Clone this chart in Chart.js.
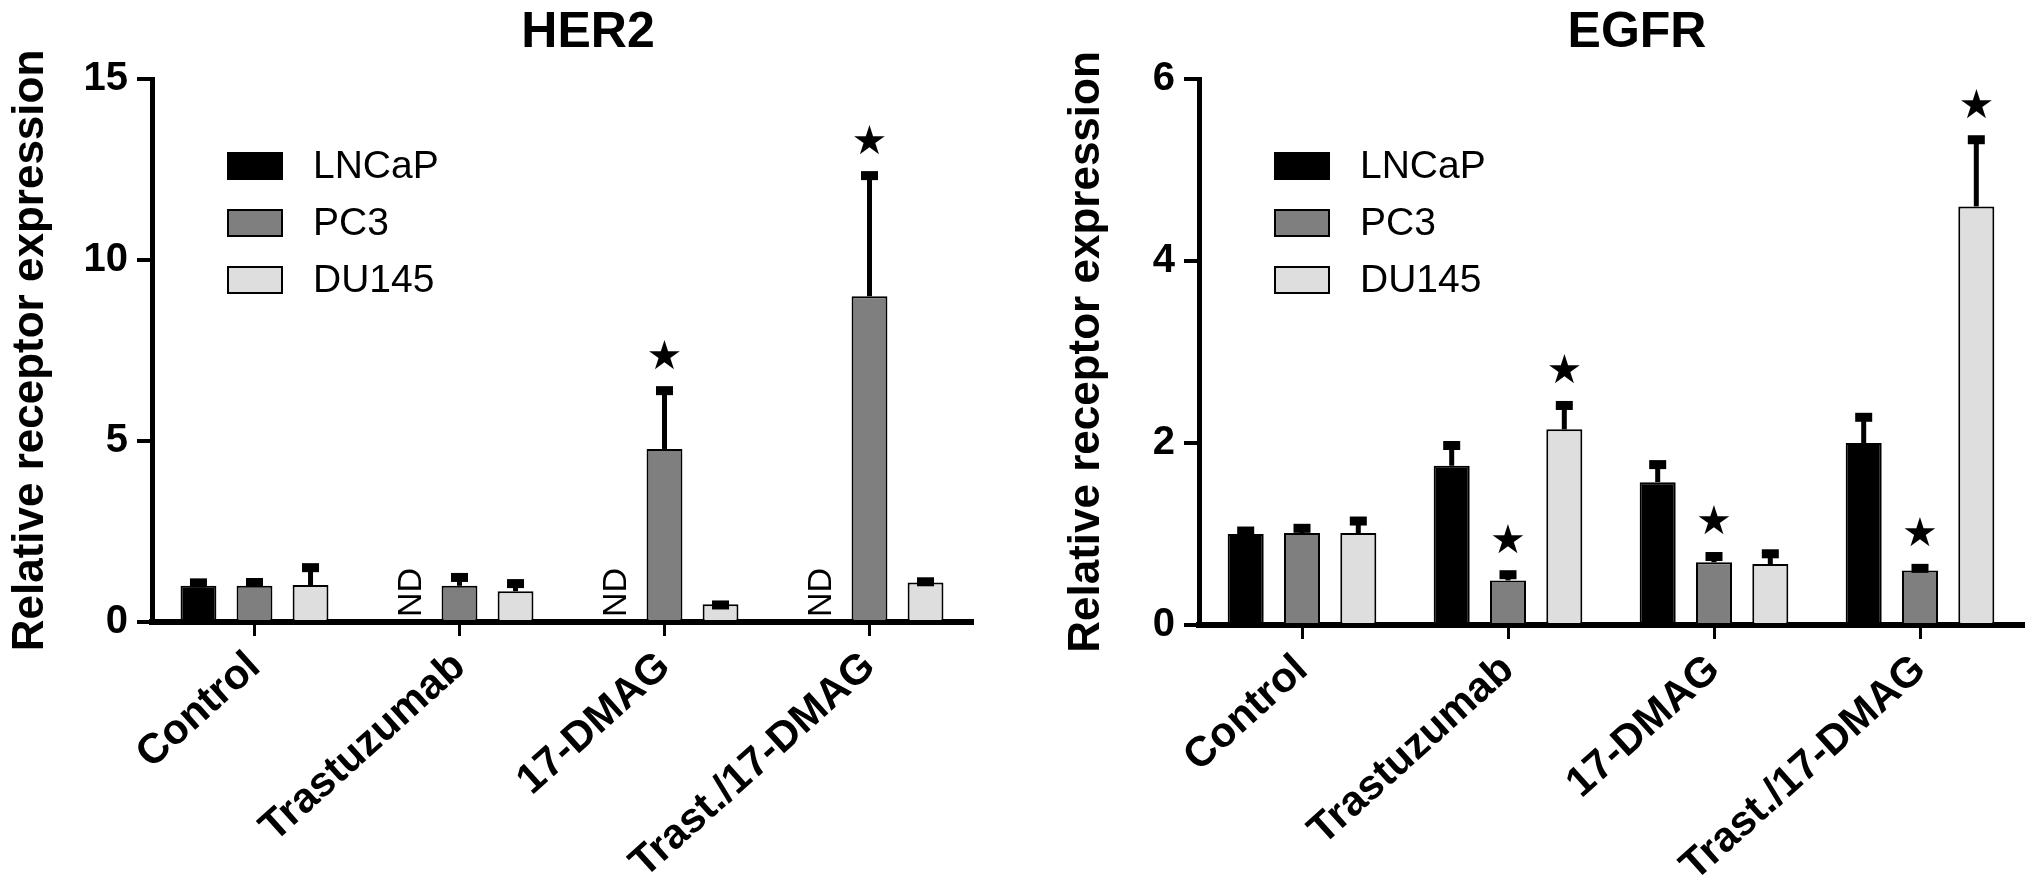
<!DOCTYPE html>
<html>
<head>
<meta charset="utf-8">
<script src="https://cdn.jsdelivr.net/npm/chart.js@4.4.0/dist/chart.umd.min.js"></script>
<style>
body{margin:0;background:#fff;width:2031px;height:896px;overflow:hidden;position:relative}
#graficoHer2{position:absolute;left:0;top:0}
#graficoEgfr{position:absolute;left:1000px;top:0}
</style>
</head>
<body>
<canvas id="graficoHer2" width="1000" height="896"></canvas>
<canvas id="graficoEgfr" width="1031" height="896"></canvas>
<script>
// datos
const tratamientos = ['Control', 'Trastuzumab', '17-DMAG', 'Trast./17-DMAG']
const lineas = ['LNCaP', 'PC3', 'DU145']
const colores = ['#000000', '#7f7f7f', '#dedede']

// HER2 (null = ND)
const her2LNCaP = [1.0, null, null, null]
const her2PC3 = [1.0, 1.0, 4.78, 9.0]
const her2DU145 = [1.02, 0.85, 0.49, 1.09]
const her2ErrLNCaP = [0.15, 0, 0, 0]
const her2ErrPC3 = [0.16, 0.3, 1.68, 3.4]
const her2ErrDU145 = [0.55, 0.28, 0.05, 0.09]
const her2SigLNCaP = [0, 0, 0, 0]
const her2SigPC3 = [0, 0, 1, 1]
const her2SigDU145 = [0, 0, 0, 0]
const her2Ticks = [0, 5, 10, 15]

// EGFR
const egfrLNCaP = [1.0, 1.75, 1.57, 2.0]
const egfrPC3 = [1.01, 0.49, 0.69, 0.6]
const egfrDU145 = [1.01, 2.15, 0.67, 4.6]
const egfrErrLNCaP = [0.06, 0.25, 0.22, 0.31]
const egfrErrPC3 = [0.08, 0.09, 0.09, 0.05]
const egfrErrDU145 = [0.16, 0.29, 0.14, 0.76]
const egfrSigLNCaP = [0, 0, 0, 0]
const egfrSigPC3 = [0, 1, 1, 1]
const egfrSigDU145 = [0, 1, 0, 1]
const egfrTicks = [0, 2, 4, 6]

const fuenteNormal = '"Liberation Sans", Arial, sans-serif'

// barras de error, estrellas, ND, titulo y leyenda
const pluginExtras = {
  id: 'extras',
  afterDatasetsDraw(chart) {
    const ctx = chart.ctx
    const y = chart.scales.y
    chart.data.datasets.forEach((ds, i) => {
      const meta = chart.getDatasetMeta(i)
      meta.data.forEach((bar, j) => {
        const v = ds.data[j]
        ctx.save()
        if (v === null) {
          ctx.translate(bar.x + 8, y.getPixelForValue(0) - 5)
          ctx.rotate(-Math.PI / 2)
          ctx.fillStyle = '#000'
          ctx.font = '34px ' + fuenteNormal
          ctx.textAlign = 'left'
          ctx.textBaseline = 'middle'
          ctx.fillText('ND', 0, 0)
          ctx.restore()
          return
        }
        const arriba = y.getPixelForValue(v)
        const tope = y.getPixelForValue(v + ds.err[j])
        if (ds.err[j] > 0) {
          ctx.strokeStyle = '#000'
          ctx.lineWidth = 5
          ctx.beginPath()
          ctx.moveTo(bar.x, arriba)
          ctx.lineTo(bar.x, tope)
          ctx.stroke()
          ctx.fillStyle = '#000'
          ctx.fillRect(bar.x - 8.5, tope - 2, 17, 9)
        }
        if (ds.sig[j]) {
          ctx.fillStyle = '#000'
          ctx.font = '40px "DejaVu Sans"'
          ctx.textAlign = 'center'
          ctx.textBaseline = 'middle'
          ctx.fillText('★', bar.x, tope - 30)
        }
        ctx.restore()
      })
    })
  },
  afterDraw(chart) {
    const ctx = chart.ctx
    const area = chart.chartArea
    ctx.save()
    // titulo
    ctx.fillStyle = '#000'
    ctx.font = 'bold 50px ' + fuenteNormal
    ctx.textAlign = 'center'
    ctx.textBaseline = 'middle'
    ctx.fillText(chart.options.plugins.extras.titulo, (area.left + area.right) / 2 + 26, 33)
    // leyenda
    chart.data.datasets.forEach((ds, i) => {
      const yc = area.top + 87 + i * 57
      ctx.fillStyle = ds.backgroundColor
      ctx.fillRect(area.left + 76, yc - 13, 54, 26)
      ctx.lineWidth = 2
      ctx.strokeStyle = '#000'
      ctx.strokeRect(area.left + 76, yc - 13, 54, 26)
      ctx.fillStyle = '#000'
      ctx.font = '39px ' + fuenteNormal
      ctx.textAlign = 'left'
      ctx.textBaseline = 'middle'
      ctx.fillText(ds.label, area.left + 161, yc + 1)
    })
    ctx.restore()
  }
}

function armarGrafico(lienzo, titulo, valores, errores, sig, ticks, caja) {
  return new Chart(lienzo, {
    type: 'bar',
    data: {
      labels: tratamientos,
      datasets: lineas.map((l, i) => ({
        label: l,
        data: valores[i],
        err: errores[i],
        sig: sig[i],
        backgroundColor: colores[i],
        borderColor: '#000',
        borderWidth: 2,
        categoryPercentage: 0.82,
        barPercentage: 0.64
      }))
    },
    options: {
      responsive: false,
      animation: false,
      devicePixelRatio: 1,
      layout: { padding: { left: caja.izq, right: caja.der, top: 79, bottom: 0 } },
      plugins: {
        legend: { display: false },
        tooltip: { enabled: false },
        extras: { titulo: titulo }
      },
      scales: {
        x: {
          offset: true,
          grid: { offset: false, drawOnChartArea: false, drawTicks: true, tickLength: 14, lineWidth: 3, color: '#000' },
          border: { display: true, color: '#000', width: 6 },
          ticks: {
            color: '#000',
            font: { family: fuenteNormal, size: 42, weight: 'bold' },
            minRotation: 42,
            maxRotation: 42,
            autoSkip: false,
            padding: 6
          },
          afterFit: s => { s.height = caja.alto }
        },
        y: {
          min: ticks[0],
          max: ticks[ticks.length - 1],
          afterBuildTicks: s => { s.ticks = ticks.map(v => ({ value: v })) },
          grid: { drawOnChartArea: false, drawTicks: true, tickLength: 15, lineWidth: 4, color: '#000' },
          border: { display: true, color: '#000', width: 5 },
          ticks: {
            color: '#000',
            font: { family: fuenteNormal, size: 40, weight: 'bold' },
            padding: 9
          },
          title: {
            display: true,
            text: 'Relative receptor expression',
            color: '#000',
            font: { family: fuenteNormal, size: 44, weight: 'bold' },
            padding: 0
          },
          afterFit: s => { s.width = caja.ancho }
        }
      }
    },
    plugins: [pluginExtras]
  })
}

let graficoHer2 = armarGrafico(document.getElementById('graficoHer2'), 'HER2',
  [her2LNCaP, her2PC3, her2DU145],
  [her2ErrLNCaP, her2ErrPC3, her2ErrDU145],
  [her2SigLNCaP, her2SigPC3, her2SigDU145],
  her2Ticks, { izq: 4, der: 28, ancho: 148, alto: 274 })

let graficoEgfr = armarGrafico(document.getElementById('graficoEgfr'), 'EGFR',
  [egfrLNCaP, egfrPC3, egfrDU145],
  [egfrErrLNCaP, egfrErrPC3, egfrErrDU145],
  [egfrSigLNCaP, egfrSigPC3, egfrSigDU145],
  egfrTicks, { izq: 60, der: 8, ancho: 139, alto: 271 })
</script>
</body>
</html>
